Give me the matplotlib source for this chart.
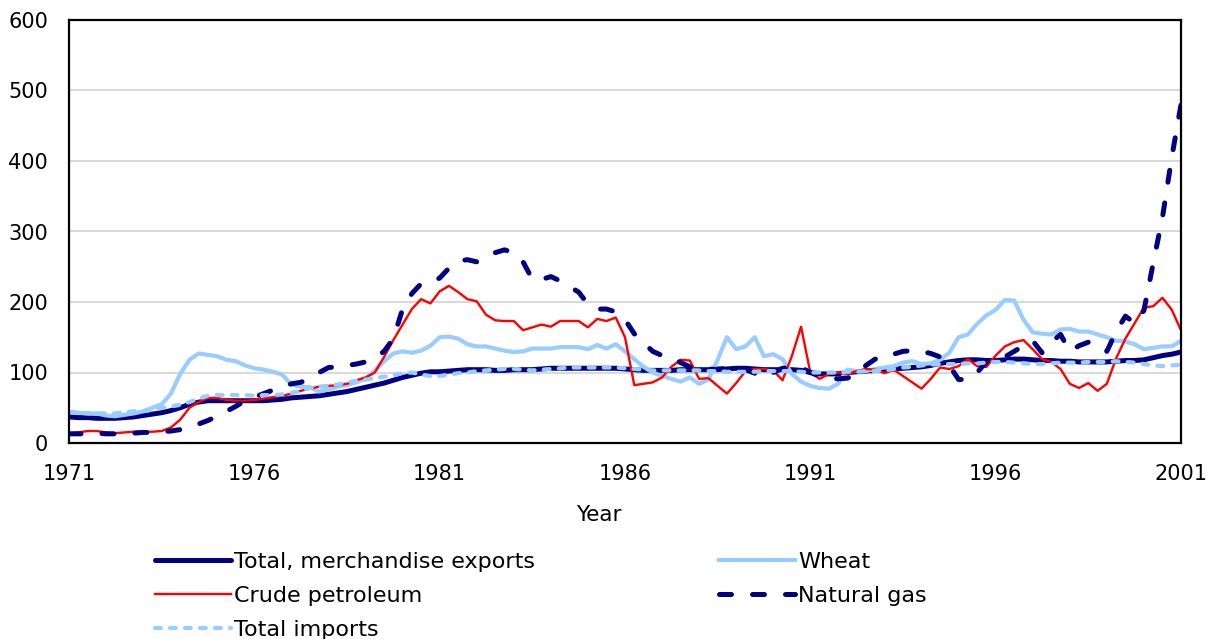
import numpy as np
import matplotlib
matplotlib.use("Agg")
import matplotlib.pyplot as plt

# quarterly index values, 1971Q1 .. 2001Q1
start_year = 1971
exports = [37, 36, 36, 35, 35, 35, 36, 37, 39, 41, 43, 46,
           50, 55, 58, 60, 60, 60, 60, 60, 60, 60, 61, 62,
           64, 65, 66, 67, 69, 71, 73, 76, 79, 82, 85, 89,
           93, 96, 99, 101, 101, 102, 103, 104, 104, 104, 103, 103,
           104, 104, 104, 105, 106, 106, 106, 106, 106, 106, 106, 106,
           105, 104, 103, 103, 103, 103, 104, 104, 104, 104, 105, 105,
           106, 106, 105, 104, 104, 104, 104, 103, 100, 98, 98, 98,
           100, 101, 102, 103, 104, 105, 106, 107, 108, 110, 113, 115,
           117, 118, 118, 117, 117, 118, 119, 119, 118, 117, 117, 116,
           116, 115, 115, 115, 115, 116, 117, 117, 118, 121, 124, 126,
           129]
wheat = [44, 43, 42, 42, 39, 38, 40, 42, 45, 50, 55, 70,
         98, 118, 127, 125, 123, 118, 116, 110, 106, 104, 101, 97,
         83, 80, 79, 73, 76, 80, 82, 86, 91, 103, 116, 127,
         130, 128, 131, 138, 150, 151, 148, 140, 137, 137, 134, 131,
         129, 130, 134, 134, 134, 136, 136, 136, 133, 139, 134, 140,
         130, 119, 108, 100, 95, 91, 87, 93, 84, 90, 118, 150,
         133, 137, 150, 123, 126, 119, 98, 87, 81, 78, 77, 84,
         104, 102, 102, 105, 107, 109, 114, 116, 112, 113, 118, 128,
         150, 154, 169, 181, 189, 203, 202, 175, 157, 155, 154, 161,
         162, 158, 158, 154, 150, 145, 144, 140, 133, 135, 137, 137,
         145]
crude = [14, 15, 17, 17, 15, 14, 15, 16, 16, 16, 17, 22,
         33, 50, 58, 64, 64, 61, 60, 60, 61, 63, 65, 67,
         70, 74, 77, 80, 81, 82, 84, 89, 93, 100, 122, 146,
         168, 190, 204, 198, 215, 223, 214, 204, 201, 182, 174, 173,
         173, 160, 164, 168, 165, 173, 173, 173, 164, 176, 173, 178,
         150, 82, 84, 86, 93, 108, 118, 117, 91, 92, 81, 70,
         85, 102, 105, 105, 103, 89, 123, 165, 100, 91, 98, 100,
         98, 102, 105, 104, 99, 104, 95, 86, 77, 91, 107, 105,
         109, 119, 109, 108, 124, 137, 143, 146, 133, 119, 115, 105,
         84, 78, 85, 74, 84, 120, 148, 170, 192, 194, 206, 189,
         160]
gas = [13, 13, 13, 14, 13, 13, 14, 14, 15, 15, 16, 17,
       19, 23, 27, 32, 38, 45, 52, 60, 65, 70, 75, 80,
       84, 86, 92, 100, 107, 108, 110, 112, 115, 120, 130, 148,
       190, 212, 226, 228, 234, 248, 258, 260, 257, 262, 270, 274,
       270, 257, 232, 232, 236, 230, 222, 214, 197, 190, 190, 186,
       175, 155, 142, 130, 124, 122, 114, 108, 105, 105, 104, 106,
       107, 104, 99, 93, 100, 106, 107, 107, 100, 95, 92, 91,
       92, 98, 110, 119, 120, 126, 130, 131, 130, 127, 122, 110,
       90, 90, 100, 115, 118, 122, 130, 138, 145, 128, 143, 154,
       130, 138, 143, 140, 130, 158, 180, 170, 188, 255, 320, 405,
       480]
imports = [44, 43, 42, 42, 42, 42, 44, 45, 45, 47, 50, 52,
           54, 58, 63, 67, 68, 68, 68, 68, 67, 68, 68, 69,
           71, 74, 78, 80, 81, 83, 86, 88, 90, 92, 94, 96,
           99, 100, 97, 95, 95, 97, 99, 100, 102, 103, 104, 105,
           105, 104, 103, 104, 105, 106, 107, 107, 107, 107, 107, 107,
           106, 105, 104, 103, 103, 103, 103, 103, 103, 102, 102, 101,
           101, 101, 101, 102, 102, 102, 102, 101, 100, 100, 100, 100,
           101, 101, 102, 102, 103, 105, 107, 108, 110, 111, 112, 112,
           112, 113, 113, 114, 115, 115, 114, 113, 112, 112, 113, 114,
           114, 114, 115, 115, 115, 116, 115, 114, 112, 110, 109, 110,
           111]

year_ticks = [1971, 1976, 1981, 1986, 1991, 1996, 2001]
y_ticks = [0, 100, 200, 300, 400, 500, 600]

x = start_year + np.arange(len(exports)) / 4.0

navy = '#000080'
light = '#99CCFF'
red = '#FF0000'

fig = plt.figure(figsize=(12.13, 6.39), dpi=100)
ax = fig.add_axes([69 / 1213, 1 - 443 / 639, 1112 / 1213, 423 / 639])

# drawing order as in the source spreadsheet
l_exp, = ax.plot(x, exports, color=navy, lw=3.6, solid_capstyle='round',
                 label='Total, merchandise exports')
l_wht, = ax.plot(x, wheat, color=light, lw=3.0, label='Wheat')
l_crd, = ax.plot(x, crude, color=red, lw=1.7, label='Crude petroleum')
l_gas, = ax.plot(x, gas, color=navy, lw=3.6, dashes=(2.4, 4.2),
                 dash_capstyle='round', label='Natural gas')
l_imp, = ax.plot(x, imports, color=light, lw=3.0, dashes=(1.4, 2.2),
                 dash_capstyle='round', label='Total imports')

ax.set_xlim(1971, 2001)
ax.set_ylim(0, 600)
ax.set_xticks(year_ticks)
ax.set_yticks(y_ticks)
ax.tick_params(axis='both', length=0, labelsize=15, pad=15)
ax.yaxis.grid(True, color='#D9D9D9', lw=1.5)
ax.set_axisbelow(True)
for s in ax.spines.values():
    s.set_color('black')
    s.set_linewidth(1.6)

ax.set_xlabel('Year', fontsize=15.5)
ax.xaxis.set_label_coords(0.476, -0.17)
ax.xaxis.label.set_va('center')

fig.legend(handles=[l_exp, l_crd, l_imp, l_wht, l_gas], ncol=2,
           loc='upper left', bbox_to_anchor=(155 / 1213, 1 - 552 / 639),
           frameon=False, fontsize=16, handlelength=3.4, handletextpad=0.15,
           columnspacing=8.3, labelspacing=0.63, borderpad=0, borderaxespad=0)

fig.savefig('out.png', dpi=100)
